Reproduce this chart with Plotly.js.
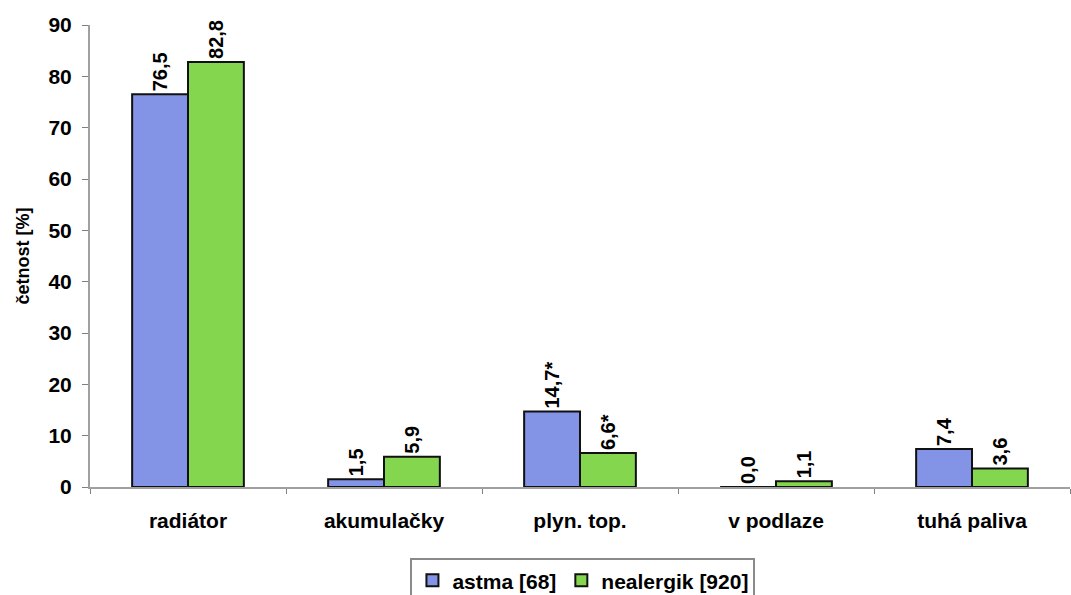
<!DOCTYPE html>
<html>
<head>
<meta charset="utf-8">
<script src="https://cdn.plot.ly/plotly-3.0.1.min.js"></script>
<style>
  html, body { margin: 0; padding: 0; background: #fff; }
  #chart { width: 1071px; height: 595px; }
</style>
</head>
<body>
<div id="chart"></div>
<script>
// Heating type vs. group: share of respondents in percent
const categories = ['radiátor', 'akumulačky', 'plyn. top.', 'v podlaze', 'tuhá paliva'];
const astma = [76.5, 1.5, 14.7, 0.0, 7.4];
const nealergik = [82.8, 5.9, 6.6, 1.1, 3.6];
// statistically significant differences are starred
const significant = [false, false, true, false, false];
const seriesNames = ['astma [68]', 'nealergik [920]'];

const FONT = 'Liberation Sans, Arial, sans-serif';

function labels(values) {
  return values.map((v, i) => '<b>' + v.toFixed(1).replace('.', ',') + (significant[i] ? '*' : '') + '</b>');
}

function barTrace(values, name, color) {
  return {
    type: 'bar',
    x: categories,
    y: values,
    name: '<b>' + name + '</b>',
    text: labels(values),
    textposition: 'outside',
    textangle: -90,
    cliponaxis: false,
    textfont: { family: FONT, size: 20, color: '#000' },
    marker: { color: color, line: { color: '#111', width: 2 } },
    hoverinfo: 'x+y+name'
  };
}

const data = [
  barTrace(astma, seriesNames[0], '#8393e6'),
  barTrace(nealergik, seriesNames[1], '#84d64f')
];

const layout = {
  width: 1071,
  height: 595,
  margin: { l: 90, r: 1, t: 25, b: 108, autoexpand: false },
  paper_bgcolor: '#fff',
  plot_bgcolor: '#fff',
  barmode: 'group',
  bargap: 0.43,
  bargroupgap: 0,
  font: { family: FONT, size: 21, color: '#000', weight: 'bold' },
  xaxis: {
    type: 'category',
    showline: true,
    linecolor: '#a0a0a0',
    linewidth: 2,
    ticks: 'outside',
    tickson: 'boundaries',
    ticklen: 5,
    tickcolor: '#808080',
    tickfont: { family: FONT, size: 21, weight: 'bold' },
    ticklabelstandoff: 14,
    showgrid: false,
    zeroline: false,
    automargin: false
  },
  yaxis: {
    range: [0, 90],
    dtick: 10,
    showline: true,
    linecolor: '#a0a0a0',
    linewidth: 2,
    ticks: 'outside',
    ticklen: 6,
    tickcolor: '#808080',
    tickfont: { family: FONT, size: 21, weight: 'bold' },
    ticklabelstandoff: 6,
    showgrid: false,
    zeroline: false,
    automargin: false,
    title: { text: '<b>četnost [%]</b>', font: { family: FONT, size: 18 }, standoff: 14 }
  },
  legend: {
    orientation: 'h',
    x: 0.503,
    xanchor: 'center',
    y: -0.154,
    yanchor: 'top',
    bordercolor: '#8a8a8a',
    borderwidth: 2,
    bgcolor: '#fff',
    font: { family: FONT, size: 21, weight: 'bold' },
    itemwidth: 30,
    tracegroupgap: 0
  },
  showlegend: true
};

Plotly.newPlot('chart', data, layout, { displayModeBar: false, staticPlot: true });
</script>
</body>
</html>
